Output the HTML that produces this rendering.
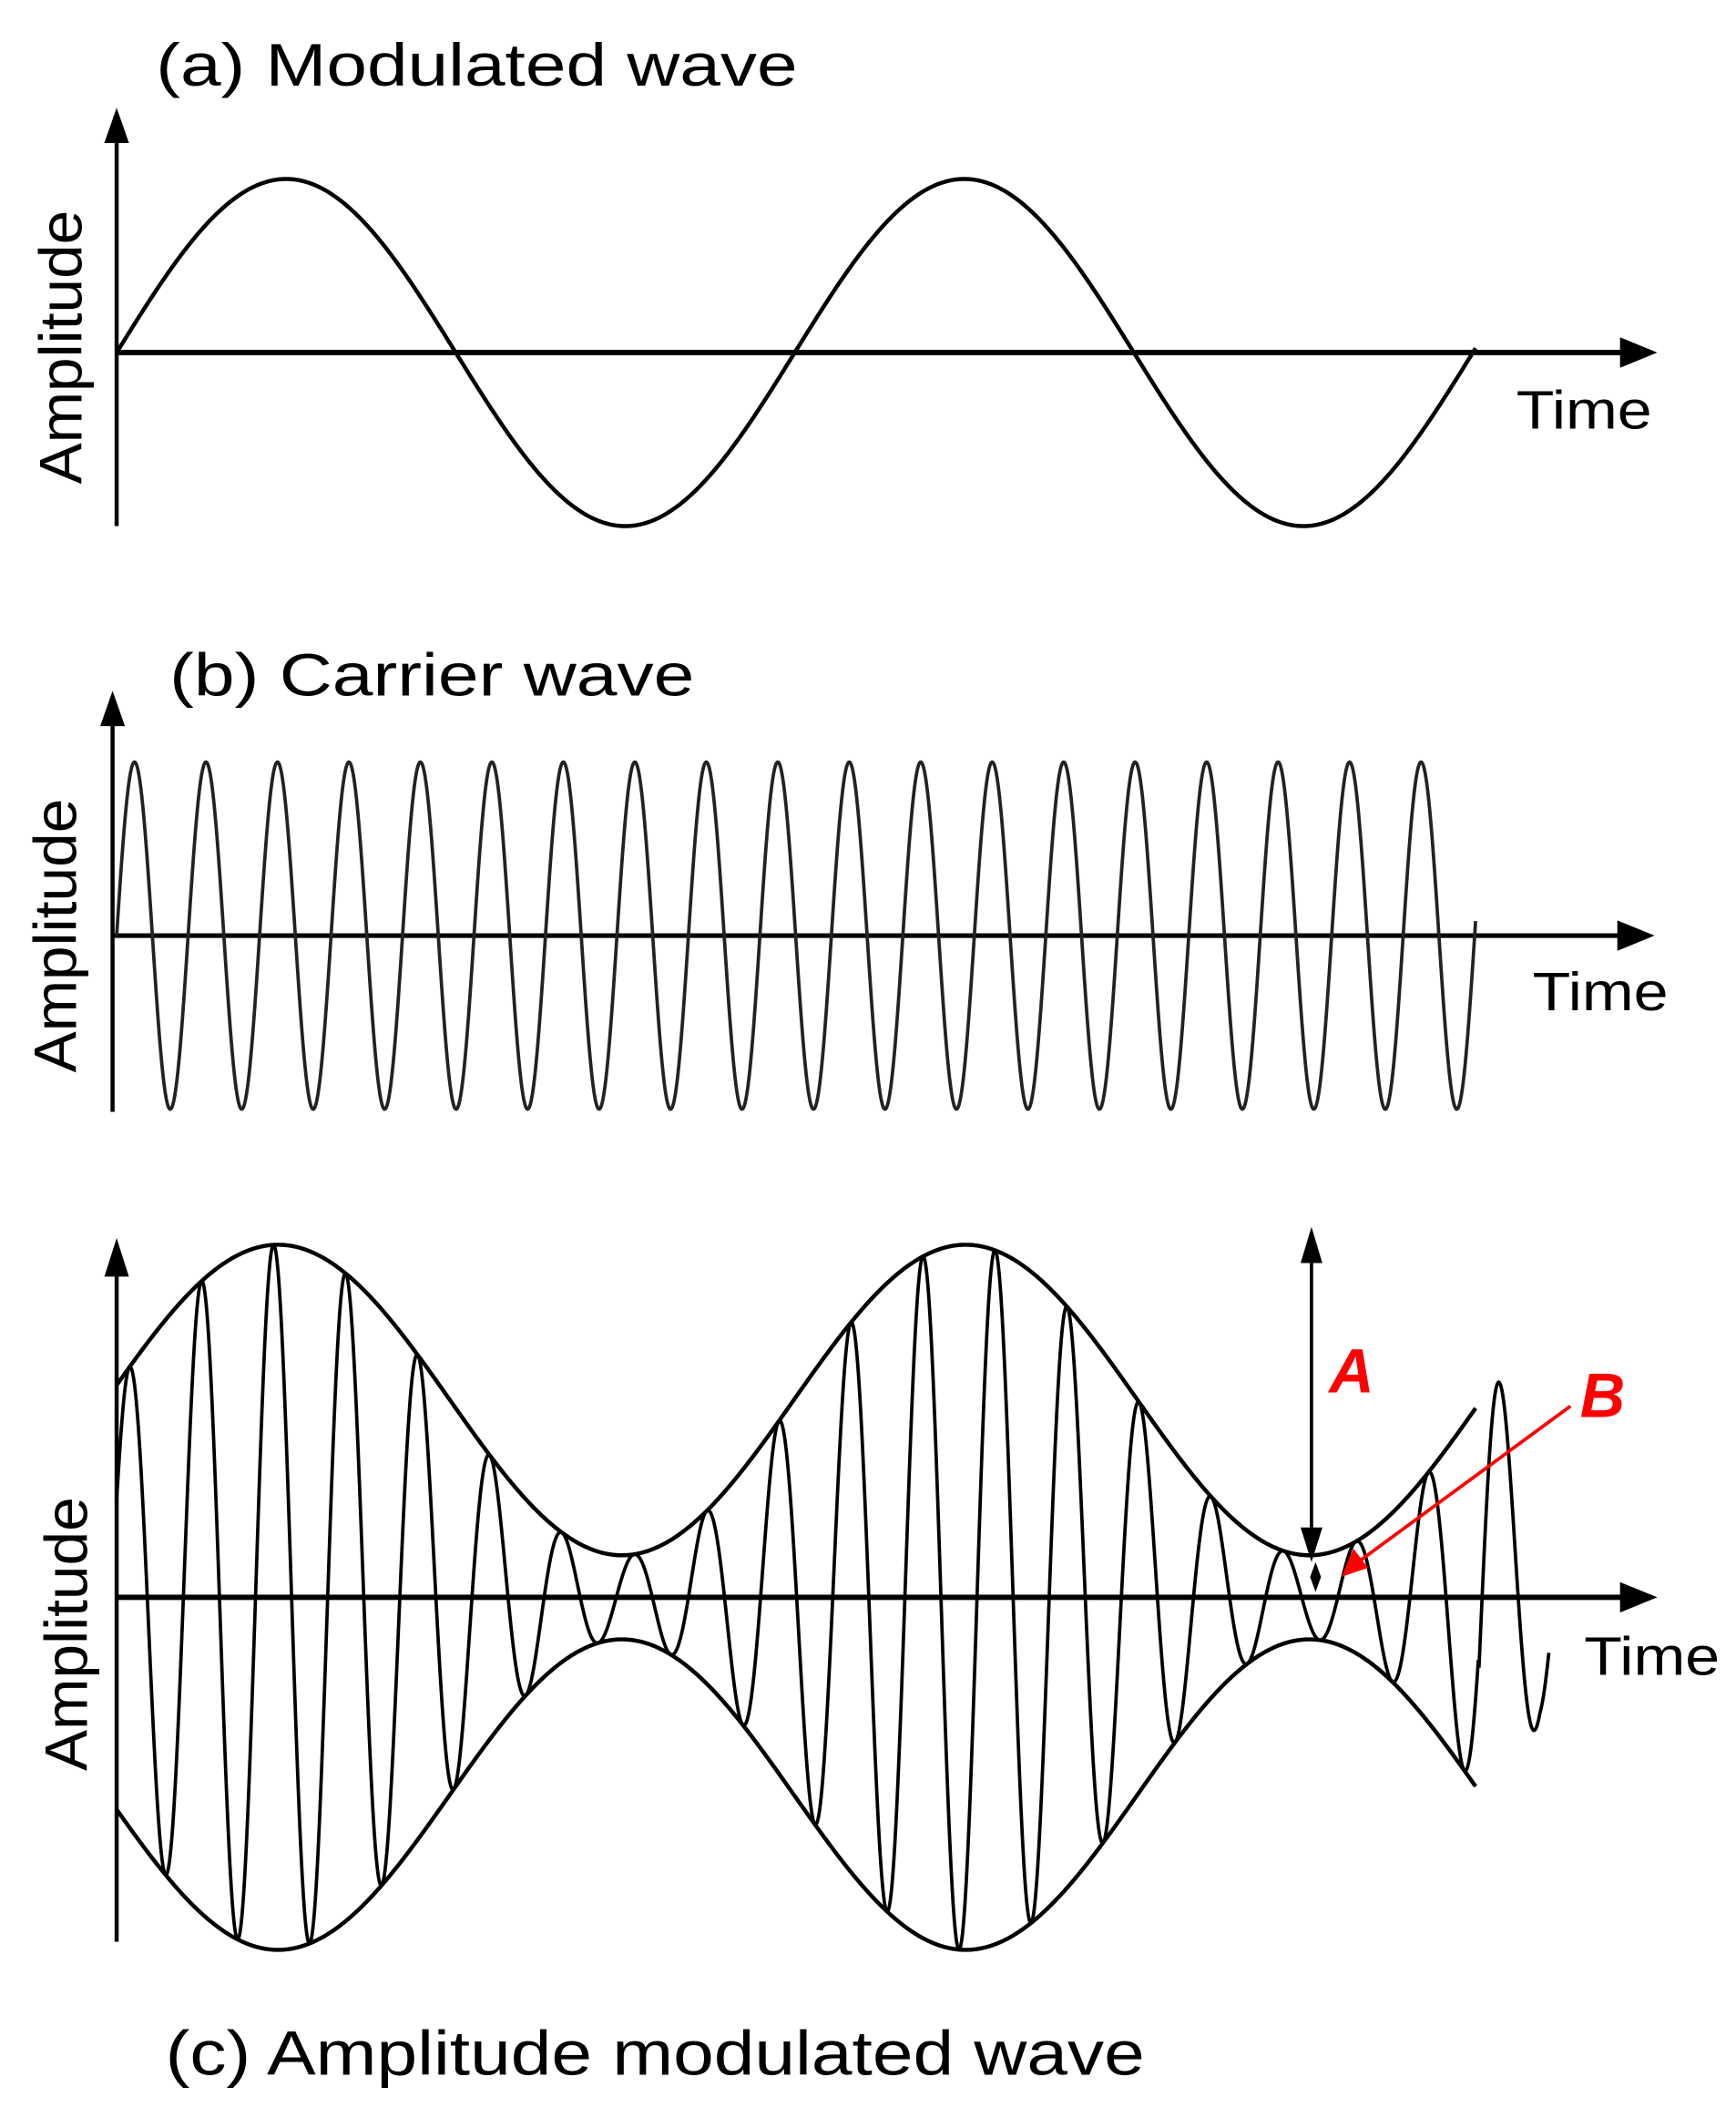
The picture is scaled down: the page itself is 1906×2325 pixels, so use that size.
<!DOCTYPE html>
<html><head><meta charset="utf-8">
<style>html,body{margin:0;padding:0;background:#fff}svg{display:block}</style>
</head><body>
<svg id="s" width="1906" height="2325" viewBox="0 0 1280 1562" preserveAspectRatio="none" xmlns="http://www.w3.org/2000/svg" font-family="Liberation Sans, Arial, sans-serif">
<g fill="none" stroke="#000" stroke-width="3">
<line x1="86" y1="388" x2="86" y2="100"/><path d="M79,104 L86,84 L93,104z" fill="#000"/>
<line x1="86" y1="260" x2="1200" y2="260" stroke-width="4"/><path d="M1196,251 L1218,260 L1196,269z" fill="#000"/>
<line x1="83" y1="820" x2="83" y2="530"/><path d="M76,534 L83,514 L90,534z" fill="#000"/>
<line x1="83" y1="690" x2="1198" y2="690" stroke-width="3.5"/><path d="M1194,681 L1216,690 L1194,699z" fill="#000"/>
<line x1="86" y1="1432" x2="86" y2="935"/><path d="M79,940 L86,918 L93,940z" fill="#000"/>
<line x1="86" y1="1178" x2="1200" y2="1178" stroke-width="4"/><path d="M1196,1169 L1218,1178 L1196,1187z" fill="#000"/>
<path id="pa"/><path id="pb" stroke-width="2.5" stroke="#222"/><path id="pu"/><path id="pl"/><path id="pc" stroke-width="2.5"/>
<line x1="967" y1="928" x2="967" y2="1130" stroke-width="2.5"/>
<path d="M961,930 L967,910 L973,930z" fill="#000"/><path d="M961,1128 L967,1147 L973,1128z" fill="#000"/>
<path d="M970,1152 L974,1163 L970,1174 L966,1163z" fill="#000" stroke="none"/>
<line x1="1158" y1="1037" x2="1000" y2="1153" stroke="#f00" stroke-width="2.5"/>
<path d="M990,1162 L998,1143 L1008,1156z" fill="#f00" stroke="#f00" stroke-width="1"/>
</g>
<g fill="#000">
<text x="115" y="63" font-size="44" textLength="473" lengthAdjust="spacingAndGlyphs">(a) Modulated wave</text>
<text x="1118" y="316" font-size="40" textLength="100" lengthAdjust="spacingAndGlyphs">Time</text>
<text transform="translate(60,256) rotate(-90)" text-anchor="middle" font-size="44" textLength="202" lengthAdjust="spacingAndGlyphs">Amplitude</text>
<text x="125" y="513" font-size="44" textLength="387" lengthAdjust="spacingAndGlyphs">(b) Carrier wave</text>
<text x="1130" y="745" font-size="40" textLength="100" lengthAdjust="spacingAndGlyphs">Time</text>
<text transform="translate(56,690) rotate(-90)" text-anchor="middle" font-size="44" textLength="202" lengthAdjust="spacingAndGlyphs">Amplitude</text>
<text x="122" y="1530" font-size="46" textLength="722" lengthAdjust="spacingAndGlyphs">(c) Amplitude modulated wave</text>
<text x="1168" y="1235" font-size="40" textLength="100" lengthAdjust="spacingAndGlyphs">Time</text>
<text transform="translate(64,1205) rotate(-90)" text-anchor="middle" font-size="44" textLength="202" lengthAdjust="spacingAndGlyphs">Amplitude</text>
</g>
<text x="980" y="1027" font-size="46" font-weight="bold" font-style="italic" fill="#f00">A</text>
<text x="1165" y="1045" font-size="46" font-weight="bold" font-style="italic" fill="#f00">B</text>
<script>
(function(){
function P(f,x0,x1,st){var d="";for(var x=x0;x<=x1+1e-9;x+=st){d+=(d?"L":"M")+x.toFixed(2)+","+f(x).toFixed(2);}return d;}
var T=2*Math.PI;
document.getElementById("pa").setAttribute("d",P(function(x){return 260-128*Math.sin(T*(x-86)/500);},86,1088,1));
document.getElementById("pb").setAttribute("d",P(function(x){return 690-128*Math.sin(T*(x-86)/52.7);},86,1088,0.5));
function up(x){return 1032.5-114.5*Math.cos(T*(x-205)/507);}
document.getElementById("pu").setAttribute("d",P(up,86,1088,1));
document.getElementById("pl").setAttribute("d",P(function(x){return 2356-up(x);},86,1088,1));
document.getElementById("pc").setAttribute("d",P(function(x){var E=1178-up(x);if(x>1090){E=Math.max(90,160-(x-1105)*2.3);}return 1178-E*Math.sin(T*(x-82)/53.2);},86,1142,0.5));
})();
</script>
</svg>
</body></html>
